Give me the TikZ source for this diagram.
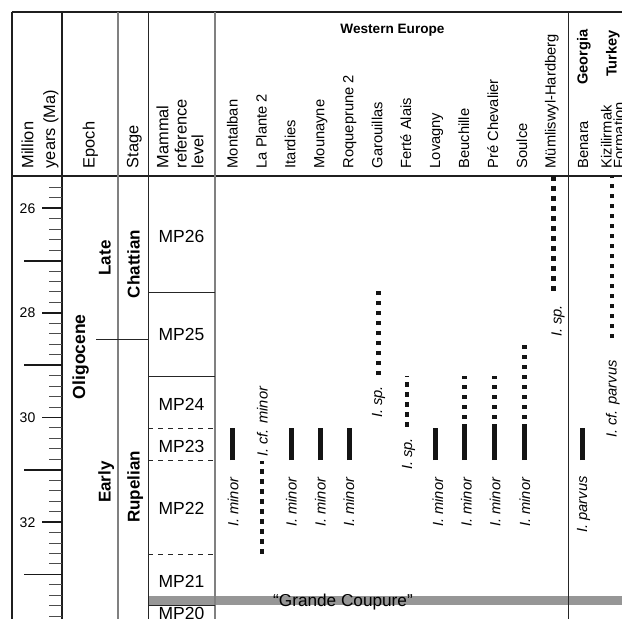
\documentclass[tikz,border=0pt]{standalone}
\usepackage{fontspec}
\setmainfont{Liberation Sans}
\begin{document}
\begin{tikzpicture}[x=1pt,y=-1pt,
  frame/.style={line width=2pt,black!88},
  thinline/.style={line width=0.9pt,black!85},
  grayline/.style={line width=1.3pt,black!50},
  mpdash/.style={line width=0.9pt,black!85,dash pattern=on 5pt off 5pt},
  barline/.style={line width=4.7pt,black!92},
  dotline/.style={line width=4.4pt,black!92,dash pattern=on 4.2pt off 5.8pt},
  hdr/.style={rotate=90,anchor=base west,inner sep=0pt,font=\fontsize{14.7}{16}\selectfont},
  lhdr/.style={rotate=90,anchor=base west,inner sep=0pt,font=\fontsize{16.4}{18}\selectfont},
  grp/.style={rotate=90,anchor=base east,inner sep=0pt,font=\bfseries\fontsize{14.6}{16}\selectfont},
  period/.style={rotate=90,anchor=base,inner sep=0pt,font=\bfseries\fontsize{17}{19}\selectfont},
  mp/.style={anchor=base,inner sep=0pt,font=\fontsize{17.5}{19}\selectfont},
  spc/.style={rotate=90,anchor=base west,inner sep=0pt,font=\itshape\fontsize{14.7}{16}\selectfont},
  ticklab/.style={anchor=base east,inner sep=0pt,font=\fontsize{14}{16}\selectfont},
]
\definecolor{bandgray}{RGB}{150,150,150}
\useasboundingbox (0,0) rectangle (622,619);
\clip (0,0) rectangle (622,619);

% Grande Coupure band
\fill[bandgray] (148,596) rectangle (622,605);

% frame
\draw[frame] (11.7,12.3) -- (622,12.3);
\draw[frame] (11.7,12.3) -- (11.7,619);
\draw[frame] (11.7,176) -- (622,176);
\draw[frame] (62,12.3) -- (62,619);
\draw[grayline] (118,12.3) -- (118,619);
\draw[thinline] (148,12.3) -- (148,619);
\draw[grayline] (215,12.3) -- (215,619);
\draw[thinline] (568,12.3) -- (568,619);

% ruler ticks
\foreach \i in {0,...,41}
  \draw[line width=1pt,black!70] (49,{187.38+10.46*\i}) -- (62,{187.38+10.46*\i});
\foreach \m in {26,28,30,32}{
  \draw[line width=1.8pt,black!90] (42,{208.3+52.3*(\m-26)}) -- (62,{208.3+52.3*(\m-26)});
  \node[ticklab] (t\m) at (35.5,{208.3+52.3*(\m-26)+5}) {\m};
}
\foreach \m in {27,29,31,33}
  \draw[line width=1.8pt,black!90] (24,{208.3+52.3*(\m-26)}) -- (62,{208.3+52.3*(\m-26)});

% boundaries
\draw[thinline] (96,339.3) -- (148,339.3);
\draw[thinline] (148,292.3) -- (215,292.3);
\draw[thinline] (148,376.7) -- (215,376.7);
\draw[mpdash] (148,428.3) -- (215,428.3);
\draw[mpdash] (148,460) -- (215,460);
\draw[mpdash] (148,554) -- (215,554);
\draw[thinline] (148,605) -- (215,605);

% headers
\node[lhdr] (h1) at (33.3,168.5) {Million};
\node[lhdr] (h2) at (55,168.5) {years (Ma)};
\node[lhdr] (h3) at (94.5,168.5) {Epoch};
\node[lhdr] (h4) at (138.3,168.5) {Stage};
\node[lhdr] (h5) at (168.3,168.5) {Mammal};
\node[lhdr] (h6) at (186.5,168.5) {reference};
\node[lhdr] (h7) at (203.3,168.5) {level};

\node[hdr] (s1) at (237.5,168.5) {Montalban};
\node[hdr] (s2) at (266.5,168.5) {La Plante 2};
\node[hdr] (s3) at (295.4,168.5) {Itardies};
\node[hdr] (s4) at (324.4,168.5) {Mounayne};
\node[hdr] (s5) at (353.3,168.5) {Roqueprune 2};
\node[hdr] (s6) at (382.3,168.5) {Garouillas};
\node[hdr] (s7) at (411.2,168.5) {Ferté Alais};
\node[hdr] (s8) at (440.2,168.5) {Lovagny};
\node[hdr] (s9) at (469.1,168.5) {Beuchille};
\node[hdr] (s10) at (498.1,168.5) {Pré Chevalier};
\node[hdr] (s11) at (527,168.5) {Soulce};
\node[hdr] (s12) at (555.5,168.5) {Mümliswyl-Hardberg};
\node[hdr] (s13) at (588,168.5) {Benara};
\node[hdr] (s14) at (611.5,168.5) {Kizilirmak};
\node[hdr] (s15) at (624,168.5) {Formation};

\node[anchor=base,inner sep=0pt,font=\bfseries\fontsize{13.6}{15}\selectfont] (we) at (392.5,33) {Western Europe};
\node[grp] (ge) at (587.5,29.5) {Georgia};
\node[grp] (tu) at (616.5,30) {Turkey};

% epoch / stage
\node[period,font=\bfseries\fontsize{17.5}{19}\selectfont] (oli) at (85,356.7) {Oligocene};
\node[period] (late) at (110.5,258) {Late};
\node[period] (early) at (110.5,482) {Early};
\node[period] (chat) at (139.5,264) {Chattian};
\node[period] (rup) at (139.5,487) {Rupelian};

% MP levels
\node[mp] (mp26) at (181.5,242) {MP26};
\node[mp] (mp25) at (181.5,340.6) {MP25};
\node[mp] (mp24) at (181.5,410.3) {MP24};
\node[mp] (mp23) at (181.5,452.3) {MP23};
\node[mp] (mp22) at (181.5,514.3) {MP22};
\node[mp] (mp21) at (181.5,587) {MP21};
\node[mp] (mp20) at (181.5,619) {MP20};

\node[anchor=base,inner sep=0pt,font=\fontsize{17.2}{19}\selectfont] (gc) at (343,606.5) {“Grande Coupure”};

% solid bars
\foreach \x in {232.5,291.7,320.7,349.3,435.5,582.5}
  \draw[barline] (\x,460) -- (\x,428);
\foreach \x in {464.5,494.5,524.5}
  \draw[barline] (\x,460) -- (\x,424);

% dotted ranges (drawn upwards)
\draw[dotline] (261.7,553.5) -- (261.7,460.5);
\draw[dotline] (378.3,375) -- (378.3,291);
\draw[dotline] (406.7,426.5) -- (406.7,375.5);
\draw[dotline] (464.5,419) -- (464.5,375.5);
\draw[dotline] (494.5,419) -- (494.5,375.5);
\draw[dotline] (524.5,419) -- (524.5,344);
\draw[dotline] (553.3,290.5) -- (553.3,176);
\draw[dotline] (611.7,338) -- (611.7,176);

% species labels
\node[spc] (l1) at (238.3,527) {I. minor};
\node[spc] (l2) at (267.7,457) {I. cf. minor};
\node[spc] (l3) at (296.7,527) {I. minor};
\node[spc] (l4) at (325.5,527) {I. minor};
\node[spc] (l5) at (354.2,527) {I. minor};
\node[spc] (l6) at (382.2,418) {I. sp.};
\node[spc] (l7) at (412.2,470) {I. sp.};
\node[spc] (l8) at (443,527) {I. minor};
\node[spc] (l9) at (471.5,527) {I. minor};
\node[spc] (l10) at (500.3,527) {I. minor};
\node[spc] (l11) at (530,527) {I. minor};
\node[spc] (l12) at (561.7,337) {I. sp.};
\node[spc] (l13) at (587,533) {I. parvus};
\node[spc] (l14) at (616.7,438) {I. cf. parvus};
\end{tikzpicture}
\end{document}
